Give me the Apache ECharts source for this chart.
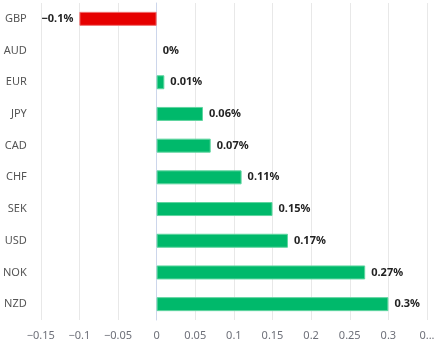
<!DOCTYPE html>
<html>
<head>
<meta charset="utf-8">
<script src="https://cdn.jsdelivr.net/npm/echarts@6/dist/echarts.min.js"></script>
<style>
  html, body { margin: 0; padding: 0; background: #fff; }
  #chart { width: 445px; height: 353px; }
</style>
</head>
<body>
<div id="chart"></div>
<script>
// currency daily change, %
const currencies = ['GBP', 'AUD', 'EUR', 'JPY', 'CAD', 'CHF', 'SEK', 'USD', 'NOK', 'NZD']
const changes = [-0.1, 0, 0.01, 0.06, 0.07, 0.11, 0.15, 0.17, 0.27, 0.3]
const xTicks = [-0.15, 0.35, 0.05] // min, max, interval

const upColor = '#00b96b'
const downColor = '#e60000'

function minus(s) {
  return String(s).replace('-', '\u2212')
}

const chart = echarts.init(document.getElementById('chart'))
chart.setOption({
  animation: false,
  textStyle: { fontFamily: 'Noto Sans' },
  grid: {
    top: 3,
    left: 40,
    right: 18,
    bottom: 33
  },
  xAxis: {
    type: 'value',
    min: xTicks[0],
    max: xTicks[1],
    interval: xTicks[2],
    axisLine: { show: false },
    axisTick: { show: false },
    splitLine: { lineStyle: { color: '#e8e8e8' } },
    axisLabel: {
      color: '#6e7079',
      fontSize: 11,
      margin: 10,
      formatter: v => {
        if (v >= xTicks[1] - 1e-9) return '0...'
        return minus(+v.toFixed(2))
      }
    }
  },
  yAxis: {
    type: 'category',
    inverse: true,
    data: currencies,
    axisLine: { lineStyle: { color: '#ccd6eb' } },
    axisTick: { lineStyle: { color: '#ccd6eb' }, length: 6 },
    axisLabel: { color: '#555', fontSize: 11, margin: 14 }
  },
  series: [{
    type: 'bar',
    barWidth: 14,
    data: changes.map(v => ({
      value: v,
      itemStyle: {
        color: v < 0 ? downColor : upColor,
        borderColor: v < 0 ? '#f07070' : '#5fd6a0',
        borderWidth: v === 0 ? 0 : 1
      },
      label: { position: v < 0 ? 'left' : 'right' }
    })),
    label: {
      show: true,
      color: '#222',
      fontSize: 11,
      fontWeight: 'bold',
      distance: 6,
      formatter: p => minus(p.value) + '%'
    }
  }]
})
</script>
</body>
</html>
